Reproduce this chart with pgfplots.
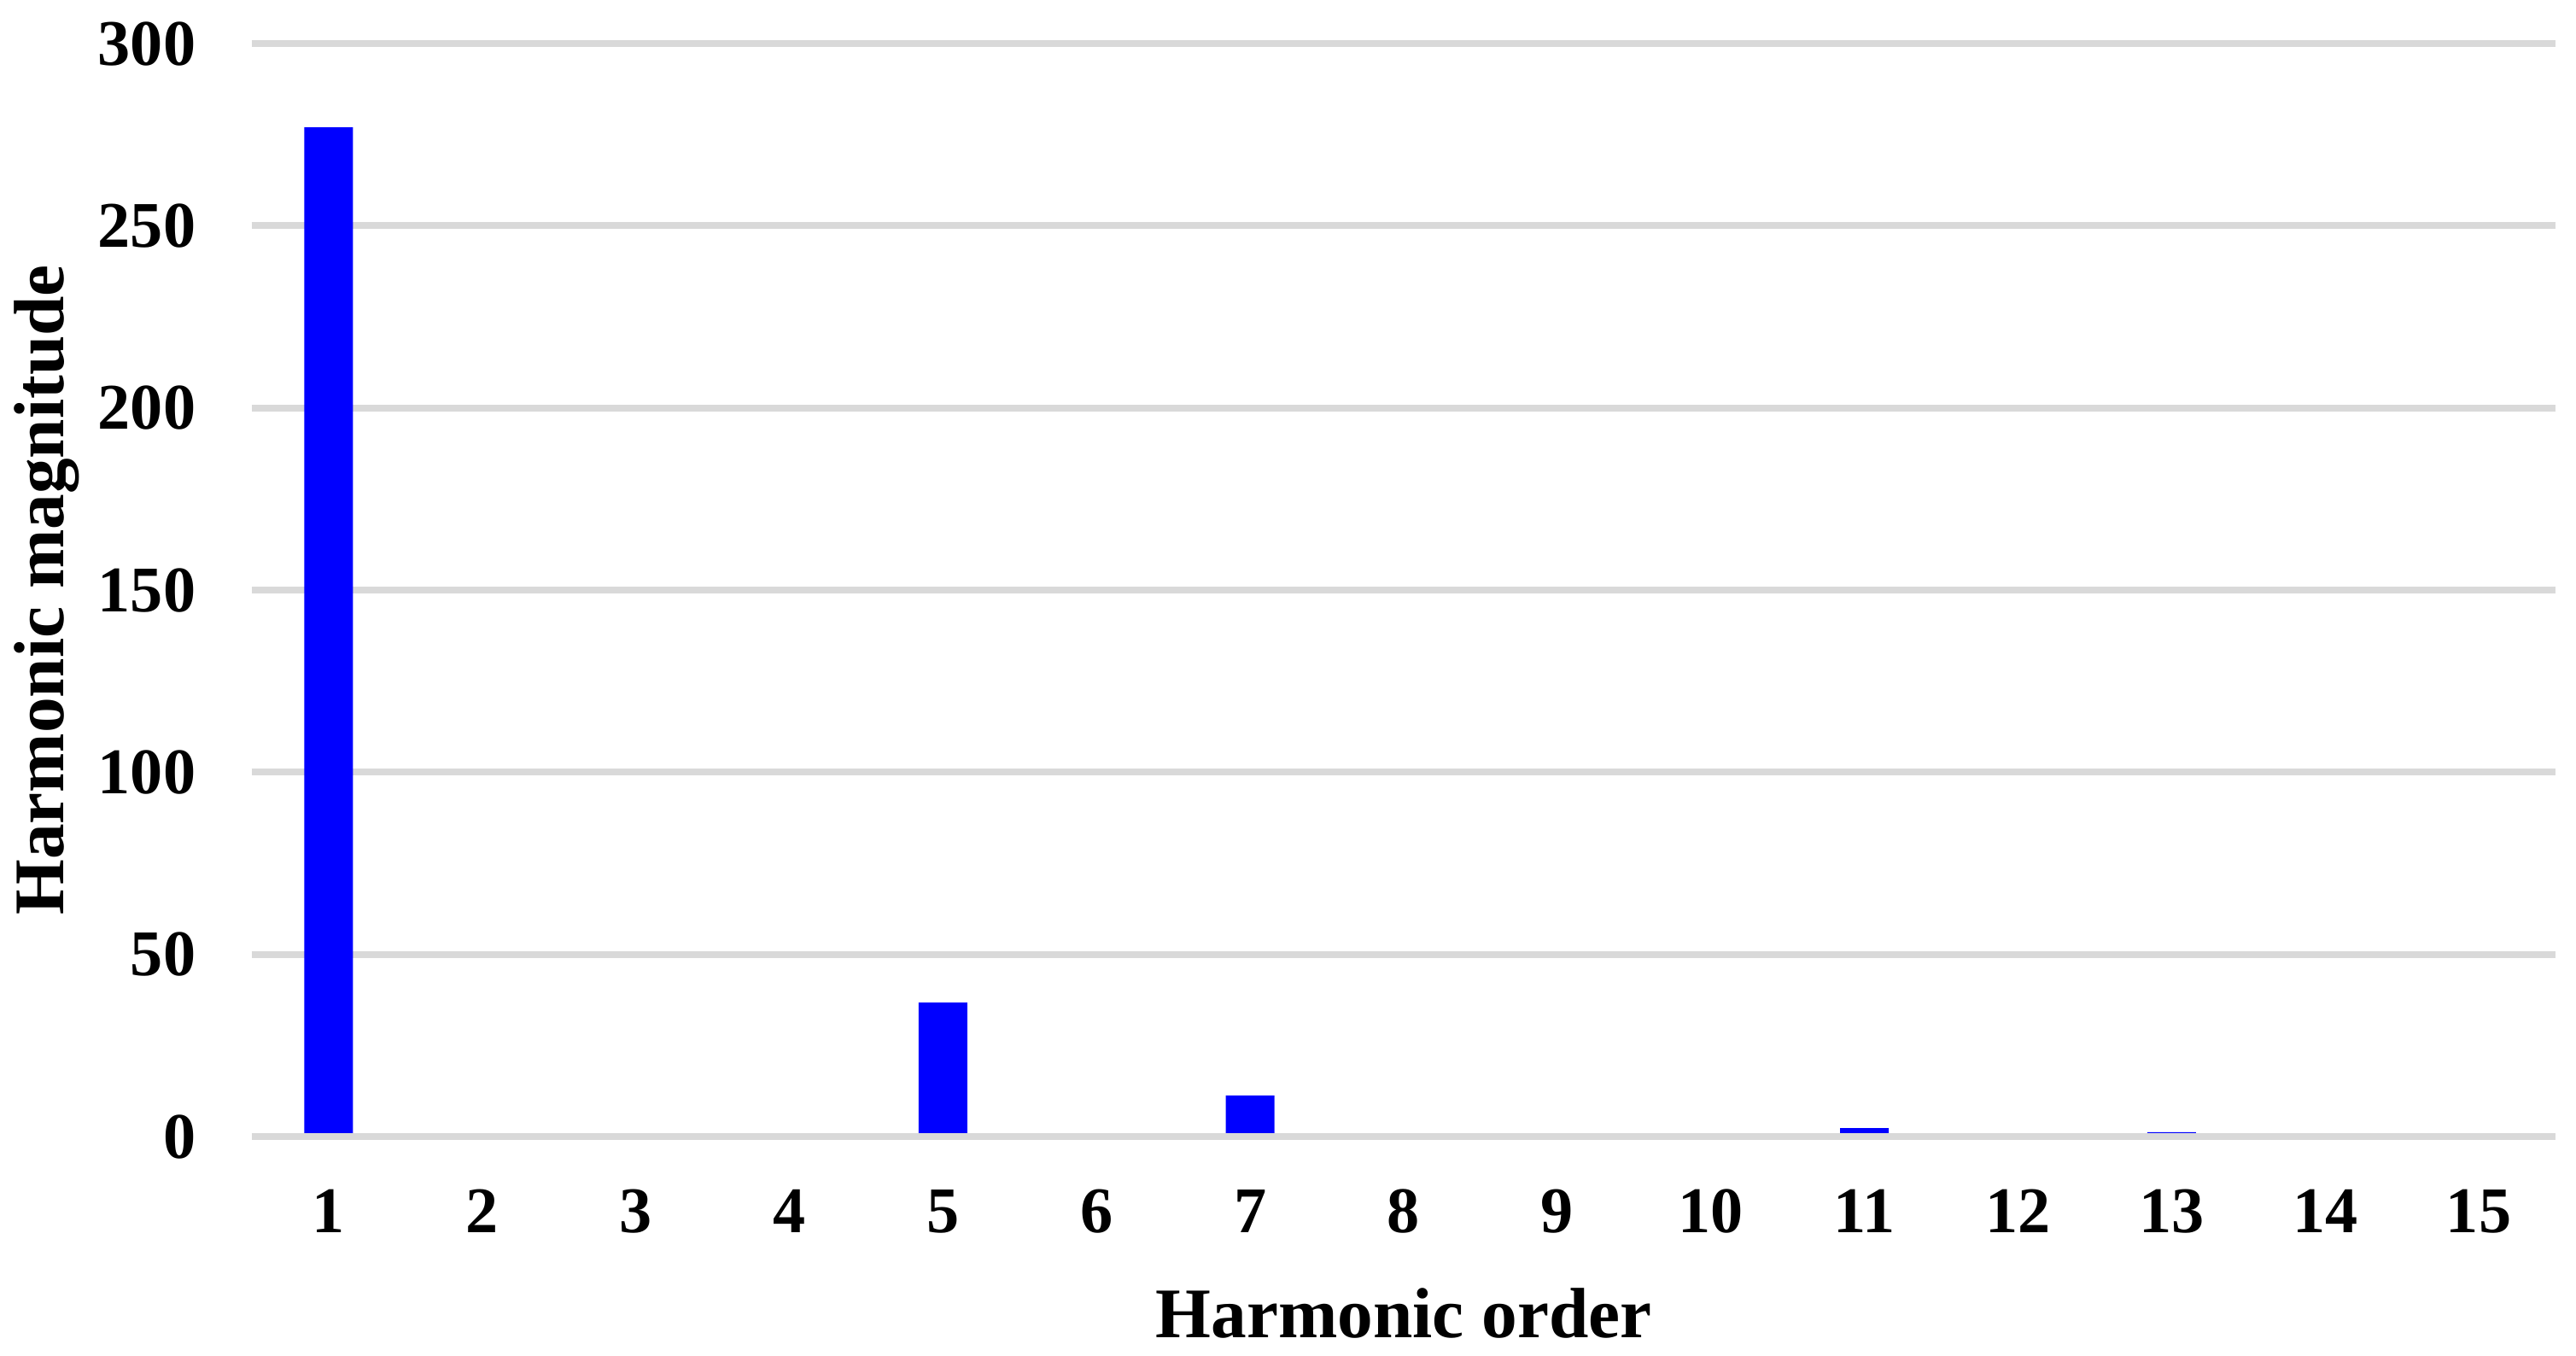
\documentclass[border=0pt]{standalone}
\usepackage{fontspec}
\setmainfont{Liberation Serif}
\usepackage{pgfplots}
\pgfplotsset{compat=1.18}
\definecolor{gridgray}{RGB}{217,217,217}
\definecolor{barblue}{RGB}{0,0,255}
\begin{document}
\fontsize{18.3pt}{22pt}\selectfont\bfseries
\begin{tikzpicture}
  % page = reference frame, 1 px = 0.24pt, origin at plot area's lower left
  \useasboundingbox (-70.8pt,-61.44pt) rectangle (653.28pt,319.44pt);
  \begin{axis}[
    at={(0,0)}, anchor=south west,
    scale only axis, width=647.5pt, height=307.2pt,
    xmin=0.5, xmax=15.5, ymin=0, ymax=300,
    xtick={1,...,15}, ytick={0,50,...,300},
    axis line style={draw=none},
    major tick length=0pt,
    ymajorgrids, major grid style={gridgray, line width=1.9pt},
    /pgf/number format/assume math mode=true,
    ticklabel style={font=\fontsize{18.3pt}{22pt}\selectfont\bfseries},
    xticklabel style={anchor=base, inner sep=0pt, yshift=-26.9pt},
    yticklabel style={anchor=east, inner sep=0pt, xshift=-15.6pt},
    xlabel={Harmonic order}, ylabel={Harmonic magnitude},
    every axis x label/.style={at={(axis description cs:0.5,0)}, anchor=base, inner sep=0pt, yshift=-56.4pt},
    every axis y label/.style={at={(axis description cs:-0.0889,0.5)}, rotate=90, anchor=center, inner sep=0pt},
    label style={font=\fontsize{20pt}{24pt}\selectfont\bfseries},
  ]
  \addplot[ybar, bar width=13.7pt, bar shift=0pt, fill=barblue, draw=none] coordinates {
    (1,277) (2,0) (3,0) (4,0) (5,36.8) (6,0) (7,11.3) (8,0)
    (9,0) (10,0) (11,2.3) (12,0) (13,1.2) (14,0) (15,0)
  };
  \draw[gridgray, line width=1.9pt] (axis cs:0.5,0) -- (axis cs:15.5,0);
  \end{axis}
\end{tikzpicture}
\end{document}
